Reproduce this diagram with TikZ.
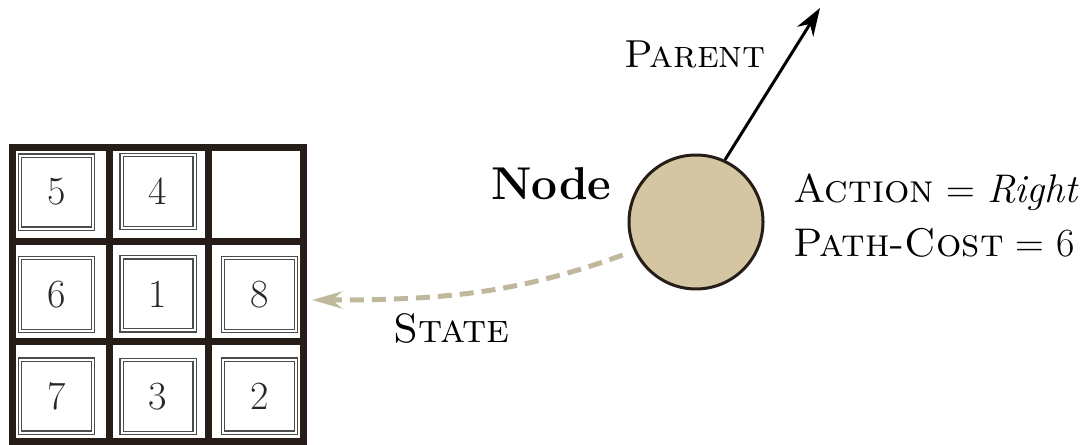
\documentclass[tikz,border=0pt]{standalone}
\usepackage{fontspec}
\usetikzlibrary{matrix,arrows.meta}

\definecolor{nodetan}{RGB}{212,198,162}
\definecolor{statetan}{RGB}{192,184,156}
\definecolor{boardbrown}{RGB}{38,28,24}

\begin{document}
\begin{tikzpicture}[x=1pt,y=1pt,>={Stealth[length=28pt,width=19pt]}]
            \useasboundingbox (0,0) rectangle (1091,444);

            % the eight tiles
            \matrix [%
            matrix of nodes,
            column sep=24pt,
            row sep=24.5pt,
            nodes={draw=black!70, double, double distance=2pt,
              line width=1.2pt, minimum size=73pt, inner sep=0pt,
              text=black!85, font=\fontsize{40}{40}\selectfont}
            ] (board) at (158,150) {%
            5 & 4 & \\
            6 & 1 & 8 \\
            7 & 3 & 2 \\
            };

            % the board frame
            \draw[line width=7pt, boardbrown] (12,3) rectangle (303.5,296.5);
            \foreach \x in {109,208}
              \draw[line width=7pt, boardbrown] (\x,3) -- (\x,296.5);
            \foreach \y in {102.5,202.5}
              \draw[line width=7pt, boardbrown] (12,\y) -- (303.5,\y);

            % the search node
            \node[circle, draw=boardbrown, line width=3pt, fill=nodetan,
              minimum size=134pt] (search) at (696,222) {};
            \node[anchor=base east, font=\bfseries\fontsize{46}{46}\selectfont]
              (nodename) at (615,244) {Node};

            \node[anchor=base west, font=\fontsize{40}{40}\selectfont]
              (action) at (790,241) {\textsc{Action} = \textit{Right}};
            \node[anchor=base west, font=\fontsize{40}{40}\selectfont]
              (pathcost) at (790,187) {\textsc{Path-Cost} = 6};
            \node[anchor=base, font=\fontsize{39}{39}\selectfont]
              (parentlabel) at (695,376) {\textsc{Parent}};
            \node[anchor=base west, font=\fontsize{41}{41}\selectfont]
              (statelabel) at (390,101) {\textsc{State}};

            \coordinate (parenttip) at (820,436);
            \coordinate (statetip) at (312,144);

            \path
            (search.65)  edge[->, line width=3pt] (parenttip)
            (search.205) edge[->, statetan, line width=5pt,
              dash pattern=on 14pt off 8pt, shorten <=12pt,
              >={Stealth[length=30pt,width=17pt]},
              out=200, in=0] (statetip);
        \end{tikzpicture}
\end{document}
